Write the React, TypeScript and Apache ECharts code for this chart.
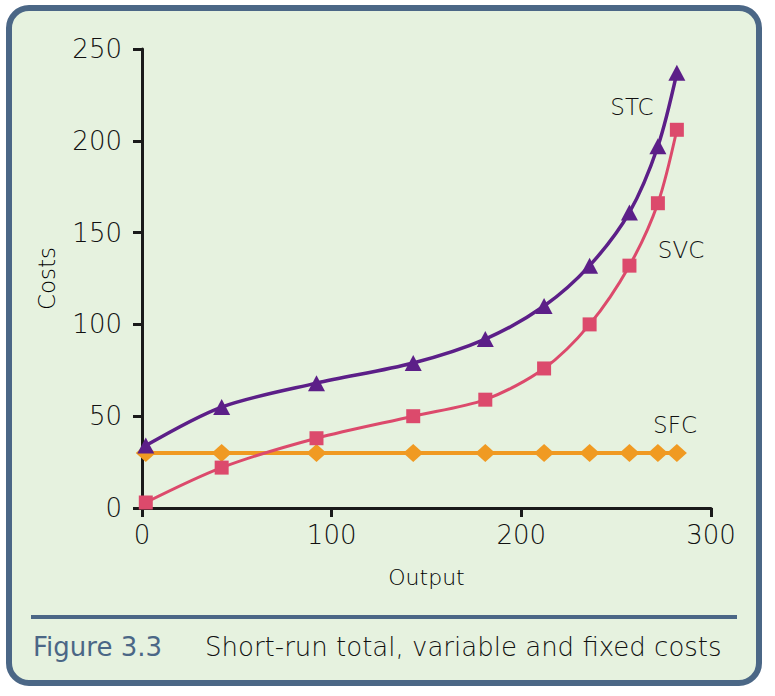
import React, { useEffect, useRef } from "react";
import * as echarts from "echarts";

const output = [2, 42, 92, 143, 181, 212, 236, 257, 272, 282];
const stc = [34, 55, 68, 79, 92, 110, 132, 161, 197, 237];
const svc = [3, 22, 38, 50, 59, 76, 100, 132, 166, 206];
const sfc = [30, 30, 30, 30, 30, 30, 30, 30, 30, 30];
const xTicks = [0, 100, 200, 300];
const yTicks = [0, 50, 100, 150, 200, 250];

const FONT = "'DejaVu Sans', sans-serif";
const W = 200;

export default function App() {
  const ref = useRef<HTMLDivElement>(null);
  useEffect(() => {
    if (!ref.current) return;
    const chart = echarts.init(ref.current, undefined, { renderer: "svg" });
    const pairs = (ys: number[]) => output.map((x, i) => [x, ys[i]]);
    const lbl = (text: string, x: number, y: number) => ({
      type: "text",
      x,
      y,
      style: { text, fill: "#111111", font: `${W} 23px ${FONT}`, align: "center", verticalAlign: "middle" },
    });
    chart.setOption({
      animation: false,
      backgroundColor: "#ffffff",
      textStyle: { fontFamily: FONT, fontWeight: W },
      graphic: [
        {
          type: "rect",
          shape: { x: 9, y: 8, width: 750, height: 675, r: 20 },
          style: { fill: "#e6f2df", stroke: "#4b6786", lineWidth: 6 },
          z: -10,
        },
        {
          type: "line",
          shape: { x1: 31, y1: 617, x2: 737, y2: 617 },
          style: { stroke: "#4b6786", lineWidth: 4 },
        },
        {
          type: "text",
          x: 33,
          y: 647,
          style: { text: "Figure 3.3", fill: "#4b6786", font: `normal 26px ${FONT}`, verticalAlign: "middle" },
        },
        {
          type: "text",
          x: 205,
          y: 647,
          style: { text: "Short-run total, variable and fixed costs", fill: "#111111", font: `${W} 26px ${FONT}`, verticalAlign: "middle" },
        },
        lbl("STC", 632, 107),
        lbl("SVC", 681, 250),
        lbl("SFC", 675, 425),
      ],
      grid: { left: 142, right: 64, top: 49, bottom: 188, containLabel: false },
      xAxis: {
        type: "value",
        min: xTicks[0],
        max: xTicks[xTicks.length - 1],
        interval: 100,
        name: "Output",
        nameLocation: "middle",
        nameGap: 58,
        nameTextStyle: { fontSize: 22, color: "#000", fontFamily: FONT, fontWeight: W },
        axisLine: { show: true, lineStyle: { color: "#1a1a1a", width: 3 } },
        axisTick: { show: true, length: 9, lineStyle: { color: "#1a1a1a", width: 3 } },
        axisLabel: { fontSize: 26, color: "#111", margin: 14, fontFamily: FONT, fontWeight: W },
        splitLine: { show: false },
      },
      yAxis: {
        type: "value",
        min: yTicks[0],
        max: yTicks[yTicks.length - 1],
        interval: 50,
        name: "Costs",
        nameLocation: "middle",
        nameGap: 84,
        nameRotate: 90,
        nameTextStyle: { fontSize: 23, color: "#000", fontFamily: FONT, fontWeight: W },
        axisLine: { show: true, lineStyle: { color: "#1a1a1a", width: 3 } },
        axisTick: { show: true, length: 9, lineStyle: { color: "#1a1a1a", width: 3 } },
        axisLabel: { fontSize: 26, color: "#111", margin: 20, fontFamily: FONT, fontWeight: W },
        splitLine: { show: false },
      },
      series: [
        {
          name: "SFC",
          type: "line",
          data: pairs(sfc),
          symbol: "diamond",
          symbolSize: [20, 18],
          lineStyle: { color: "#f09a22", width: 4 },
          itemStyle: { color: "#f09a22" },
          z: 3,
        },
        {
          name: "SVC",
          type: "line",
          data: pairs(svc),
          smooth: 0.3,
          symbol: "rect",
          symbolSize: 14,
          lineStyle: { color: "#dc4a6c", width: 3 },
          itemStyle: { color: "#dc4a6c" },
          z: 4,
        },
        {
          name: "STC",
          type: "line",
          data: pairs(stc),
          smooth: 0.3,
          symbol: "triangle",
          symbolSize: [17, 16],
          lineStyle: { color: "#5c1f88", width: 3.5 },
          itemStyle: { color: "#5c1f88" },
          z: 5,
        },
      ],
    });
    return () => chart.dispose();
  }, []);
  return <div ref={ref} style={{ width: 775, height: 696, position: "absolute", left: 0, top: 0 }} />;
}
